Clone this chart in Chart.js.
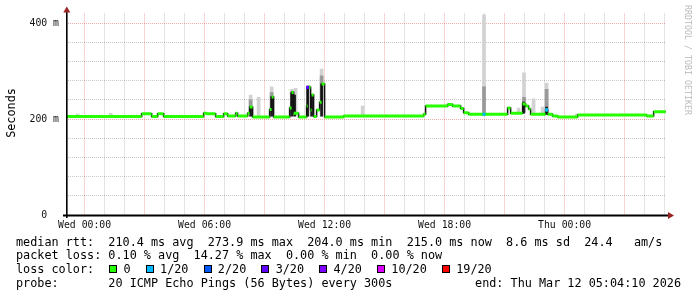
<!DOCTYPE html>
<html lang="en">
<head>
<meta charset="UTF-8">
<title>Smokeping latency</title>
<script src="https://cdn.jsdelivr.net/npm/chart.js@4"></script>
<style>
    body { margin: 0; background: #fff; }
    #wrap { position: relative; width: 697px; height: 297px; font-family: "DejaVu Sans Mono", monospace; color: #000; overflow: hidden; }
    #wrap canvas { position: absolute; left: 0; top: 0; }
    .line { position: absolute; left: 16px; font-size: 11.8px; line-height: 14px; white-space: pre; }
    .sq { display: inline-block; width: 6px; height: 6px; border: 1px solid #000; margin: 0 6.2px 0 1px; }
    #ytitle { position: absolute; width: 50px; left: -14.1px; top: 106px; font-size: 11.8px; line-height: 14px; text-align: center; transform: rotate(-90deg); }
    #credit { position: absolute; width: 112px; left: 631.9px; top: 55px; font-size: 8.3px; line-height: 10px; text-align: center; color: #bbb; white-space: pre; transform: rotate(90deg); }
</style>
</head>
<body>
<div id="wrap">
    <canvas id="c" width="697" height="297"></canvas>
    <div id="ytitle">Seconds</div>
    <div id="credit">RRDTOOL / TOBI OETIKER</div>
    <div class="line" id="l1" style="top:234.6px"></div>
    <div class="line" id="l2" style="top:248.4px"></div>
    <div class="line" id="l3" style="top:262.2px"></div>
    <div class="line" id="l4" style="top:276px"></div>
    <div class="line" id="l5" style="top:276px;left:auto;right:16px"></div>
</div>
<script>
    // time axis in hours since Wed 00:00, from Tue 23:04:10 to Thu 05:04:10
    const X_MIN = -(55 + 50 / 60) / 60;
    const X_MAX = 29 + (4 + 10 / 60) / 60;

    const tickHours = [0, 6, 12, 18, 24];
    const tickLabels = ['Wed 00:00', 'Wed 06:00', 'Wed 12:00', 'Wed 18:00', 'Thu 00:00'];
    const yTickMs = [0, 100, 200, 300, 400];
    const yTickLabels = ['0  ', '100 m', '200 m', '300 m', '400 m'];

    // median rtt, value held from each hour until the next one
    const medHours = [-0.93, 2.85, 3.35, 3.65, 3.95, 5.95, 6.1, 6.55, 6.95, 7.15, 7.55, 7.65, 8.15, 8.25, 8.4,
        9.25, 9.35, 9.45, 10.25, 10.35, 10.45, 10.7, 11.1, 11.15, 11.3, 11.35, 11.45, 11.6, 11.75, 11.85,
        12.0, 12.95, 16.95, 17.05, 18.15, 18.4, 18.8, 18.95, 19.2, 21.15, 21.3, 21.9, 22.05, 22.2, 22.3,
        23.05, 23.15, 23.4, 23.65, 24.65, 28.1, 28.45, 29.05];
    const medMs = [205, 211, 205, 211, 205, 212, 211, 205, 211, 206, 212, 206, 212, 225, 204,
        220, 246, 204, 223, 255, 212, 204, 227, 266, 219, 250, 205, 219, 235, 273,
        204, 206, 210, 227, 230, 227, 222, 213, 210, 223, 212, 231, 227, 221, 210,
        219, 210, 206, 204, 208.5, 206, 215, 215];

    // smoke: spread of the 20 pings
    const smokeHours = [-0.35, 1.3, 8.3, 8.7, 9.35, 10.35, 10.55, 11.2, 11.85, 13.9, 19.97, 21.7, 21.97, 22.45, 22.9, 23.1, 24.6];
    const smokeLow = [205, 205, 206, 206, 206, 206, 206, 206, 206, 206, 210, 212, 212, 210, 210, 210, 204];
    const smokeHigh = [210, 212, 250, 245, 267, 262, 264, 270, 304, 227, 417, 223, 296, 242, 225, 275, 210];

    const midHours = [8.3, 9.35, 10.4, 11.85, 19.97, 21.97, 23.1];
    const midLow = [210, 215, 215, 240, 210, 214, 210];
    const midHigh = [240, 255, 258, 290, 267, 245, 262];

    const coreHours = [8.3, 9.35, 10.35, 10.5, 11.15, 11.35, 11.85, 21.95, 23.1];
    const coreLow = [206, 206, 206, 206, 206, 206, 206, 212, 210];
    const coreHigh = [225, 246, 255, 250, 266, 250, 273, 235, 225];

    // packet loss events (pings lost of 20)
    const lossHours = [11.15, 19.97, 23.1];
    const lossMs = [266, 210, 219];
    const lossLost = [3, 1, 1];

    const lossSteps = [0, 1, 2, 3, 4, 10, 19];
    const lossNames = ['0', '1/20', '2/20', '3/20', '4/20', '10/20', '19/20'];
    const lossColors = ['#26ff00', '#00b8ff', '#0059ff', '#5e00ff', '#7e00ff', '#dd00ff', '#ff0000'];

    const rttStats = ['210.4 ms avg', '273.9 ms max', '204.0 ms min', '215.0 ms now', '8.6 ms sd', '24.4   am/s'];
    const lossStats = ['0.10 % avg', '14.27 % max', '0.00 % min', '0.00 % now'];

    // legend text
    document.getElementById('l1').textContent = 'median rtt:  ' + rttStats.join('  ');
    document.getElementById('l2').textContent = 'packet loss: ' + lossStats.join('  ');
    document.getElementById('l4').textContent = 'probe:       20 ICMP Echo Pings (56 Bytes) every 300s';
    document.getElementById('l5').textContent = 'end: Thu Mar 12 05:04:10 2026';
    const l3 = document.getElementById('l3');
    l3.appendChild(document.createTextNode('loss color:  '));
    lossNames.forEach((name, i) => {
        const sq = document.createElement('span');
        sq.className = 'sq';
        sq.style.background = lossColors[i];
        l3.appendChild(sq);
        l3.appendChild(document.createTextNode(name + (i < lossNames.length - 1 ? '  ' : '')));
    });

    const stepLine = medHours.map((h, i) => ({ x: h, y: medMs[i] }));
    // green part only on the flat pieces, the jumps stay dark
    const flatLine = [];
    for (let i = 0; i < medHours.length - 1; i++) {
        flatLine.push({ x: medHours[i], y: medMs[i] }, { x: medHours[i + 1], y: medMs[i] }, { x: medHours[i + 1], y: null });
    }
    const bars = (hs, lo, hi) => hs.map((h, i) => ({ x: h, y: [lo[i], hi[i]] }));

    const axisLines = {
        id: 'axisLines',
        afterDraw(chart) {
            const { ctx, chartArea: a } = chart;
            ctx.save();
            ctx.fillStyle = '#000';
            ctx.fillRect(a.left - 3, a.bottom - 0.5, a.right - a.left + 5, 2);
            ctx.fillRect(a.left, a.top - 2, 1.6, a.bottom - a.top + 5);
            ctx.fillStyle = '#992222';
            ctx.beginPath();
            ctx.moveTo(a.right + 2, a.bottom - 3);
            ctx.lineTo(a.right + 8, a.bottom + 0.5);
            ctx.lineTo(a.right + 2, a.bottom + 4);
            ctx.fill();
            ctx.beginPath();
            ctx.moveTo(a.left - 2.7, a.top - 1);
            ctx.lineTo(a.left + 0.8, a.top - 7);
            ctx.lineTo(a.left + 4.3, a.top - 1);
            ctx.fill();
            ctx.restore();
        }
    };

    const gridColor = (major) => (c) => (c.tick && c.tick.value % major === 0) ? 'rgba(225,70,70,0.45)' : 'rgba(0,0,0,0.22)';
    const tickFont = { family: 'DejaVu Sans Mono', size: 9.8 };

    new Chart(document.getElementById('c'), {
        type: 'line',
        data: {
            datasets: [
                { type: 'bar', data: bars(smokeHours, smokeLow, smokeHigh), backgroundColor: '#d2d2d2', barThickness: 3, grouped: false, order: 6 },
                { type: 'bar', data: bars(midHours, midLow, midHigh), backgroundColor: '#9a9a9a', barThickness: 3, grouped: false, order: 5 },
                { type: 'bar', data: bars(coreHours, coreLow, coreHigh), backgroundColor: '#1a1a1a', barThickness: 2, grouped: false, order: 4 },
                { data: stepLine, stepped: 'before', borderColor: '#111', borderWidth: 1.5, pointRadius: 0, order: 3 },
                { data: flatLine, borderColor: lossColors[0], borderWidth: 3, borderCapStyle: 'butt', pointRadius: 0, spanGaps: false, order: 2 },
                {
                    data: lossHours.map((h, i) => ({ x: h, y: lossMs[i] })), showLine: false, pointStyle: 'rect', pointRadius: 2.2,
                    pointBorderWidth: 0, pointBackgroundColor: lossLost.map(n => lossColors[lossSteps.indexOf(n)]), order: 1
                }
            ]
        },
        options: {
            responsive: false,
            animation: false,
            layout: { padding: { top: 13.4, right: 31, left: 0, bottom: 0 } },
            plugins: { legend: { display: false }, tooltip: { enabled: false } },
            scales: {
                x: {
                    type: 'linear', min: X_MIN, max: X_MAX, offset: false,
                    afterFit: s => { s.height = 82; },
                    afterBuildTicks: s => { s.ticks = Array.from({ length: 30 }, (_, i) => ({ value: i })); },
                    grid: { offset: false, drawTicks: false, color: gridColor(3), lineWidth: 1 },
                    border: { display: false, dash: [1, 1] },
                    ticks: {
                        autoSkip: false, maxRotation: 0, padding: 5, font: tickFont, color: '#111',
                        callback: v => { const i = tickHours.indexOf(v); return i >= 0 ? tickLabels[i] : ''; }
                    }
                },
                y: {
                    min: 0, max: 420,
                    afterFit: s => { s.width = 66; },
                    afterBuildTicks: s => { s.ticks = Array.from({ length: 22 }, (_, i) => ({ value: i * 20 })); },
                    grid: { drawTicks: false, color: gridColor(100), lineWidth: 1 },
                    border: { display: false, dash: [1, 1] },
                    ticks: {
                        padding: 7, font: tickFont, color: '#111',
                        callback: v => { const i = yTickMs.indexOf(v); return i >= 0 ? yTickLabels[i] : ''; }
                    }
                }
            }
        },
        plugins: [axisLines]
    });
</script>
</body>
</html>
